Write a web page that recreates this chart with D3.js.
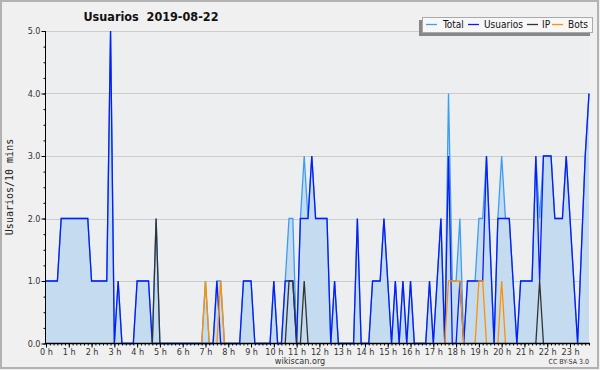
<!DOCTYPE html>
<html>
<head>
<meta charset="utf-8">
<script src="https://cdn.jsdelivr.net/npm/d3@7"></script>
<style>
  body { margin: 0; background: #f0f0f0; }
  svg { display: block; }
</style>
</head>
<body>
<svg id="chart"></svg>
<script>
// 10-minute slots, 144 per day
const hourLabels = ["0 h","1 h","2 h","3 h","4 h","5 h","6 h","7 h","8 h","9 h","10 h","11 h",
                    "12 h","13 h","14 h","15 h","16 h","17 h","18 h","19 h","20 h","21 h","22 h","23 h"];
const yTicks = [0, 1, 2, 3, 4, 5];

const usuarios = [
    1,1,1,1,2,2,2,2,2,2,2,2,
    1,1,1,1,1,5,0,1,0,0,0,0,
    1,1,1,1,0,0,0,0,0,0,0,0,
    0,0,0,0,0,0,0,0,0,1,0,0,
    0,0,0,0,1,1,1,0,0,0,0,0,
    1,0,0,1,1,1,0,2,2,2,3,2,
    2,2,2,0,1,0,0,0,0,0,2,0,
    0,0,1,1,1,2,1,0,1,0,1,0,
    1,0,0,0,0,1,0,1,2,0,3,0,
    0,1,0,1,1,1,1,1,3,1.5,0,2,
    2,2,2,1,0,1,1,1,1,3,1,3,
    3,3,2,2,2,3,2,1,0,1.5,3,4
];
const ip = [
    0,0,0,0,0,0,0,0,0,0,0,0,
    0,0,0,0,0,0,0,0,0,0,0,0,
    0,0,0,0,0,2,0,0,0,0,0,0,
    0,0,0,0,0,0,0,0,0,0,0,0,
    0,0,0,0,0,0,0,0,0,0,0,0,
    0,0,0,0,1,1,0,0,1,0,0,0,
    0,0,0,0,0,0,0,0,0,0,0,0,
    0,0,0,0,0,0,0,0,0,0,0,0,
    0,0,0,0,0,0,0,0,0,0,0,0,
    0,0,0,0,0,0,0,0,0,0,0,0,
    0,0,0,0,0,0,0,0,0,0,1,0,
    0,0,0,0,0,0,0,0,0,0,0,0
];
const bots = [
    0,0,0,0,0,0,0,0,0,0,0,0,
    0,0,0,0,0,0,0,0,0,0,0,0,
    0,0,0,0,0,0,0,0,0,0,0,0,
    0,0,0,0,0,0,1,0,0,0,1,0,
    0,0,0,0,0,0,0,0,0,0,0,0,
    0,0,0,0,0,0,0,0,0,0,0,0,
    0,0,0,0,0,0,0,0,0,0,0,0,
    0,0,0,0,0,0,0,0,0,0,0,0,
    0,0,0,0,0,0,0,0,0,0,1,1,
    1,1,0,0,0,0,1,1,0,0,0,0,
    1,0,0,0,0,0,0,0,0,0,0,0,
    0,0,0,0,0,0,0,0,0,0,0,0
];
const total = [
    1,1,1,1,2,2,2,2,2,2,2,2,
    1,1,1,1,1,5,0,1,0,0,0,0,
    1,1,1,1,0,2,0,0,0,0,0,0,
    0,0,0,0,0,0,1,0,0,1,1,0,
    0,0,0,0,1,1,1,0,0,0,0,0,
    1,0,0,1,2,2,0,2,3,2,3,2,
    2,2,2,0,1,0,0,0,0,0,2,0,
    0,0,1,1,1,2,1,0,1,0,1,0,
    1,0,0,0,0,1,0,1,2,0,4,1,
    1,2,0,1,1,1,2,2,3,1.5,0,2,
    3,2,2,1,0,1,1,1,1,3,2,3,
    3,3,2,2,2,3,2,1,0,1.5,3,4
];

const series = [
    { name: "Total", values: total, color: "#3d9ef0" },
    { name: "Usuarios", values: usuarios, color: "#0a1cf5" },
    { name: "IP", values: ip, color: "#333333" },
    { name: "Bots", values: bots, color: "#ff9100" }
];

const width = 600, height = 370;
const mLeft = 46, mRight = 589, mTop = 31, mBottom = 343.5;

const svg = d3.select("#chart")
    .attr("width", width)
    .attr("height", height)
    .style("font-family", "'DejaVu Sans Condensed', 'DejaVu Sans', sans-serif");

// frame
svg.append("rect")
    .attr("x", 1).attr("y", 1)
    .attr("width", 597).attr("height", 367)
    .attr("fill", "#f0f0f0")
    .attr("stroke", "#b2b2b2")
    .attr("stroke-width", 2);

const x = d3.scaleLinear().domain([0, 143]).range([mLeft, mRight]);
const y = d3.scaleLinear().domain([0, 5]).range([mBottom, mTop]);

// plot background
svg.append("rect")
    .attr("x", mLeft).attr("y", mTop)
    .attr("width", mRight - mLeft).attr("height", mBottom - mTop)
    .attr("fill", "#edeef0");

// grid
svg.append("g")
    .selectAll("line")
    .data(yTicks.filter(d => d > 0))
    .enter()
    .append("line")
    .attr("x1", mLeft).attr("x2", mRight)
    .attr("y1", d => Math.round(y(d)) + 0.5)
    .attr("y2", d => Math.round(y(d)) + 0.5)
    .attr("stroke", "#cccccc");

// area of total
const area = d3.area()
    .x((d, i) => x(i))
    .y0(y(0))
    .y1(d => y(d));

svg.append("path")
    .datum(total)
    .attr("fill", "#c5dcf0")
    .attr("d", area);

series.forEach(s => {
    const vals = s.values;
    // IP and Bots only where they leave zero
    const shown = vals.map((v, i) => s.name === "Total" || s.name === "Usuarios" ||
        v > 0 || (i > 0 && vals[i - 1] > 0) || (i < vals.length - 1 && vals[i + 1] > 0));
    const line = d3.line()
        .defined((d, i) => shown[i])
        .x((d, i) => x(i))
        .y(d => y(d));
    svg.append("path")
        .datum(vals)
        .attr("fill", "none")
        .attr("stroke", s.color)
        .attr("stroke-width", 1.3)
        .attr("d", line);
});

// y axis
svg.append("g")
    .attr("transform", `translate(${mLeft - 0.5},0)`)
    .call(d3.axisLeft(y).tickValues(d3.range(0, 5.01, 0.25)).tickSize(2).tickFormat(""))
    .call(g => g.select(".domain").remove())
    .call(g => g.selectAll("line").attr("stroke", "#000"));

svg.append("g")
    .attr("transform", `translate(${mLeft - 0.5},0)`)
    .call(d3.axisLeft(y).tickValues(yTicks).tickSize(4).tickFormat(d3.format(".1f")))
    .call(g => g.select(".domain").remove())
    .call(g => g.selectAll("line").attr("stroke", "#000"))
    .call(g => g.selectAll("text")
        .attr("x", -5)
        .attr("fill", "#333")
        .style("font-size", "9px")
        .style("font-family", "'DejaVu Sans Condensed', 'DejaVu Sans', sans-serif"));

svg.append("line")
    .attr("x1", mLeft - 0.5).attr("x2", mLeft - 0.5)
    .attr("y1", mTop).attr("y2", mBottom + 0.5)
    .attr("stroke", "#000");

// x axis
svg.append("g")
    .attr("transform", `translate(0,${mBottom})`)
    .call(d3.axisBottom(x).tickValues(d3.range(0, 144, 1)).tickSize(2).tickFormat(""))
    .call(g => g.select(".domain").remove())
    .call(g => g.selectAll("line").attr("stroke", "#000"));

svg.append("g")
    .attr("transform", `translate(0,${mBottom})`)
    .call(d3.axisBottom(x).tickValues(d3.range(0, 144, 6)).tickSize(4)
        .tickFormat((d, i) => hourLabels[i]))
    .call(g => g.select(".domain").remove())
    .call(g => g.selectAll("line").attr("stroke", "#000"))
    .call(g => g.selectAll("text")
        .attr("y", 5)
        .attr("fill", "#333")
        .style("font-size", "9px")
        .style("font-family", "'DejaVu Sans Condensed', 'DejaVu Sans', sans-serif"));

svg.append("line")
    .attr("x1", mLeft - 1).attr("x2", mRight + 1)
    .attr("y1", mBottom).attr("y2", mBottom)
    .attr("stroke", "#000")
    .attr("stroke-width", 1.5);

// title
svg.append("text")
    .attr("x", 151).attr("y", 21)
    .attr("text-anchor", "middle")
    .attr("fill", "#111")
    .style("font-size", "12.5px")
    .style("font-weight", "bold")
    .style("white-space", "pre")
    .text("Usuarios  2019-08-22");

// y label
svg.append("text")
    .attr("transform", "translate(13,187) rotate(-90)")
    .attr("text-anchor", "middle")
    .attr("fill", "#222")
    .style("font-family", "'DejaVu Sans Mono', monospace")
    .style("font-size", "10px")
    .text("Usuarios/10 mins");

// legend
svg.append("rect")
    .attr("x", 419).attr("y", 20)
    .attr("width", 171).attr("height", 16)
    .attr("fill", "#888");
svg.append("rect")
    .attr("x", 422.5).attr("y", 17.5)
    .attr("width", 170).attr("height", 15)
    .attr("fill", "#f7f7f7")
    .attr("stroke", "#aaaaaa");

const legendPos = [
    { sx: 426, tx: 443 },
    { sx: 468, tx: 484 },
    { sx: 527, tx: 542 },
    { sx: 552, tx: 568 }
];
series.forEach((s, i) => {
    svg.append("line")
        .attr("x1", legendPos[i].sx).attr("x2", legendPos[i].sx + 11)
        .attr("y1", 24.5).attr("y2", 24.5)
        .attr("stroke", s.color)
        .attr("stroke-width", 1.3);
    svg.append("text")
        .attr("x", legendPos[i].tx).attr("y", 28)
        .attr("fill", "#111")
        .style("font-size", "10px")
        .text(s.name);
});

// footer
svg.append("text")
    .attr("x", 300).attr("y", 364)
    .attr("text-anchor", "middle")
    .attr("fill", "#333")
    .style("font-size", "9px")
    .text("wikiscan.org");

svg.append("text")
    .attr("x", 589).attr("y", 364)
    .attr("text-anchor", "end")
    .attr("fill", "#333")
    .style("font-size", "7px")
    .text("CC BY-SA 3.0");
</script>
</body>
</html>
